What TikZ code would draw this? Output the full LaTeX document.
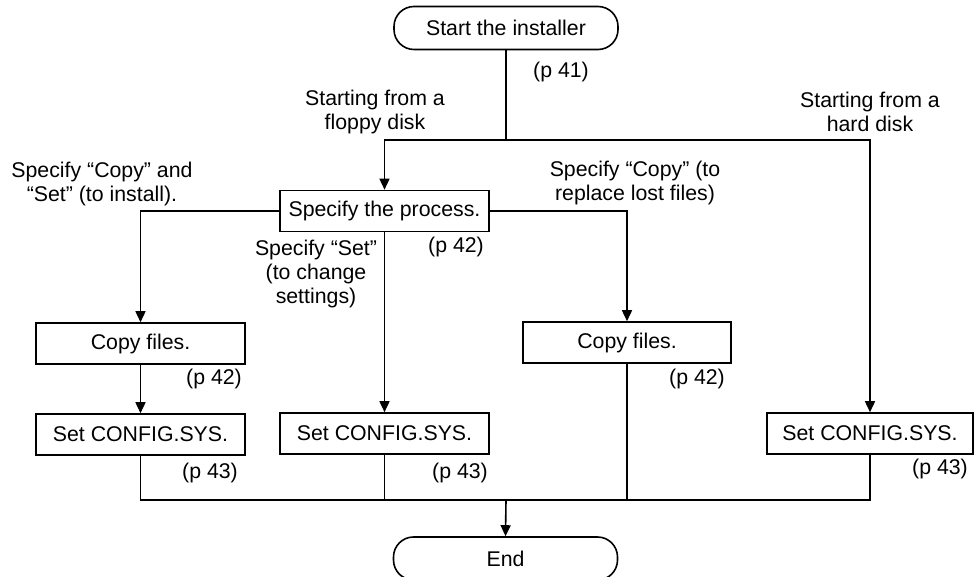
\documentclass[tikz,border=0pt]{standalone}
\usepackage{fontspec}
\setmainfont{Liberation Sans}
\usetikzlibrary{arrows.meta}
\begin{document}
\begin{tikzpicture}[x=1pt,y=-1pt,
  every node/.style={font=\fontsize{21.3}{24}\selectfont, inner sep=0pt},
  procbox/.style={draw, line width=1.6pt, minimum width=209pt, minimum height=41pt},
  termbox/.style={draw, line width=1.6pt, rounded corners=20pt, minimum width=224pt, minimum height=43pt},
  lbl/.style={align=center},
  conn/.style={line width=1.6pt},
  arr/.style={line width=1.6pt, -{Triangle[width=10pt,length=11pt]}}
]
\useasboundingbox (0,0) rectangle (977,577);
\fill[white] (0,0) rectangle (977,577);

\node[termbox] (start) at (506,28) {Start the installer};
\node[procbox] (spec) at (384.5,211) {Specify the process.};
\node[procbox] (copyL) at (140.5,343.5) {Copy files.};
\node[procbox] (setL) at (140.5,434.5) {Set CONFIG.SYS.};
\node[procbox] (setM) at (384.5,433.5) {Set CONFIG.SYS.};
\node[procbox, minimum width=208pt] (copyR) at (627,342.5) {Copy files.};
\node[procbox, minimum width=206pt] (setR) at (870,433.5) {Set CONFIG.SYS.};
\node[termbox] (end) at (505.5,558.5) {End};

\coordinate (split) at (506,140);
\coordinate (bot) at (506,500);

\draw[conn] (start.south) -- (split);
\draw[arr] (split) -| (spec.north);
\draw[arr] (split) -| (setR.north);
\draw[arr] (spec.west) -| (copyL.north);
\draw[arr] (spec.east) -| (copyR.north);
\draw[arr] (spec.south) -- (setM.north);
\draw[arr] (copyL.south) -- (setL.north);
\draw[conn] (setL.south) -- (setL.south |- bot) -- (setR.south |- bot) -- (setR.south);
\draw[conn] (setM.south) -- (setM.south |- bot);
\draw[conn] (copyR.south) -- (copyR.south |- bot);
\draw[arr] (bot) -- (end.north);

\node[lbl] (p41) at (561,72) {(p 41)};
\node[lbl] (floppy) at (375,112) {Starting from a\\floppy disk};
\node[lbl] (hard) at (870,112) {Starting from a\\hard disk};
\node[lbl] (cpset) at (102,184) {Specify “Copy” and\\“Set” (to install).};
\node[lbl] (setonly) at (316,274) {Specify “Set”\\(to change\\settings)};
\node[lbl] (p42a) at (456,247) {(p 42)};
\node[lbl] (cponly) at (635,183) {Specify “Copy” (to\\replace lost files)};
\node[lbl] (p42b) at (214,379) {(p 42)};
\node[lbl] (p43a) at (210,473) {(p 43)};
\node[lbl] (p43b) at (460,473) {(p 43)};
\node[lbl] (p42c) at (697,379) {(p 42)};
\node[lbl] (p43c) at (940,469) {(p 43)};
\end{tikzpicture}
\end{document}
